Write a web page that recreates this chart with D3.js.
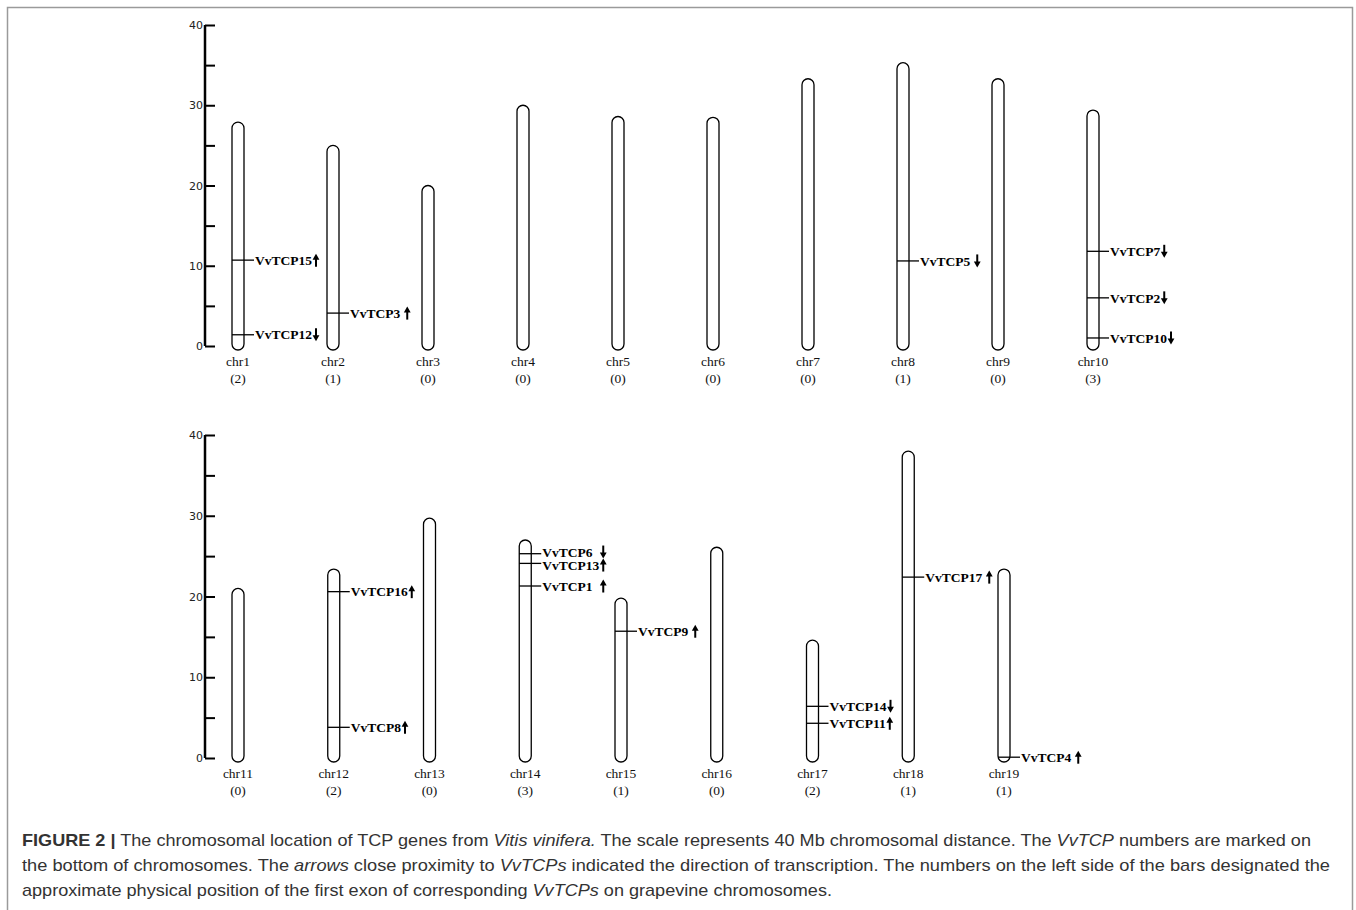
<!DOCTYPE html>
<html>
<head>
<meta charset="utf-8">
<script src="https://cdn.jsdelivr.net/npm/d3@7"></script>
<style>
  body { margin: 0; background: #fff; }
  svg { display: block; }
</style>
</head>
<body>
<svg id="fig" width="1356" height="910"></svg>
<script>
// Chromosomes, length in Mb, number of TCP genes on each
var topChr = ["chr1", "chr2", "chr3", "chr4", "chr5", "chr6", "chr7", "chr8", "chr9", "chr10"];
var topLen = [27.9, 25.0, 20.0, 30.0, 28.6, 28.5, 33.3, 35.3, 33.3, 29.4];
var topCount = [2, 1, 0, 0, 0, 0, 0, 1, 0, 3];

var botChr = ["chr11", "chr12", "chr13", "chr14", "chr15", "chr16", "chr17", "chr18", "chr19"];
var botLen = [21.0, 23.4, 29.7, 27.0, 19.8, 26.1, 14.6, 38.0, 23.4];
var botCount = [0, 2, 0, 3, 1, 0, 2, 1, 1];

// Genes: name, chromosome, position (Mb), direction of transcription
var geneName = ["VvTCP15", "VvTCP12", "VvTCP3", "VvTCP5", "VvTCP7", "VvTCP2", "VvTCP10",
                "VvTCP16", "VvTCP8", "VvTCP6", "VvTCP13", "VvTCP1", "VvTCP9",
                "VvTCP14", "VvTCP11", "VvTCP17", "VvTCP4"];
var geneChr = ["chr1", "chr1", "chr2", "chr8", "chr10", "chr10", "chr10",
               "chr12", "chr12", "chr14", "chr14", "chr14", "chr15",
               "chr17", "chr17", "chr18", "chr19"];
var genePos = [10.7, 1.4, 4.1, 10.6, 11.8, 6.0, 1.0,
               20.6, 3.8, 25.3, 24.1, 21.3, 15.7,
               6.4, 4.3, 22.4, 0.1];
var geneDir = ["up", "down", "up", "down", "down", "down", "down",
               "up", "up", "down", "up", "up", "up",
               "down", "up", "up", "up"];

var axisTicks = [0, 5, 10, 15, 20, 25, 30, 35, 40];

var svg = d3.select("#fig");

// Frame round the figure
svg.append("path")
    .attr("d", "M7.5,910 V7.5 H1352.5 V910")
    .attr("fill", "none")
    .attr("stroke", "#9a9a9a")
    .attr("stroke-width", 1.5);

var genes = geneName.map(function(n, i) {
    return { name: n, chr: geneChr[i], pos: genePos[i], dir: geneDir[i] };
});

function drawArrow(g, ax, cy, up) {
    var top = cy - 6.5, bot = cy + 6.5;
    var tip = up ? top : bot, tail = up ? bot : top;
    var s = up ? 1 : -1;
    g.append("line")
        .attr("x1", ax).attr("x2", ax)
        .attr("y1", tail).attr("y2", tip + s * 4)
        .attr("stroke", "#000").attr("stroke-width", 2);
    g.append("path")
        .attr("d", "M" + ax + "," + tip + "L" + (ax - 3.4) + "," + (tip + s * 6) +
              "L" + (ax + 3.4) + "," + (tip + s * 6) + "Z")
        .attr("fill", "#000");
}

function drawPanel(chrs, lens, counts, yRange, xRange) {
    var g = svg.append("g");
    var y = d3.scaleLinear().domain([0, 40]).range(yRange);
    var x = d3.scalePoint().domain(chrs).range(xRange);
    var halfW = 6;

    // Scale bar
    var axis = d3.axisLeft(y).tickValues(axisTicks)
        .tickSize(-10)
        .tickFormat(function(d) { return d % 10 == 0 ? d : ""; });
    var ax = g.append("g").attr("transform", "translate(205,0)").call(axis);
    ax.select(".domain").attr("d", "M0," + y(0) + "V" + y(40))
        .attr("stroke", "#000").attr("stroke-width", 2.5);
    ax.selectAll(".tick line").attr("stroke", "#000").attr("stroke-width", 2);
    ax.selectAll(".tick text")
        .attr("x", -2)
        .attr("font-family", "'DejaVu Sans', sans-serif")
        .attr("font-size", 11)
        .attr("fill", "#222");

    // Chromosomes
    chrs.forEach(function(c, i) {
        var cx = x(c);
        g.append("rect")
            .attr("x", cx - halfW)
            .attr("y", y(lens[i]))
            .attr("width", halfW * 2)
            .attr("height", y(0) + 4 - y(lens[i]))
            .attr("rx", halfW).attr("ry", halfW)
            .attr("fill", "#fff")
            .attr("stroke", "#000")
            .attr("stroke-width", 1.3);

        g.append("text")
            .attr("x", cx).attr("y", y(0) + 20)
            .attr("text-anchor", "middle")
            .attr("font-family", "'Liberation Serif', serif")
            .attr("font-size", 13.5)
            .attr("fill", "#111")
            .text(c);
        g.append("text")
            .attr("x", cx).attr("y", y(0) + 37)
            .attr("text-anchor", "middle")
            .attr("font-family", "'Liberation Serif', serif")
            .attr("font-size", 13.5)
            .attr("fill", "#111")
            .text("(" + counts[i] + ")");

        var onChr = genes.filter(function(d) { return d.chr == c; })
            .sort(function(a, b) { return b.pos - a.pos; });
        if (onChr.length == 0) return;

        // Keep labels from overlapping: spread a crowded pair round its middle
        var crowded = false;
        onChr.forEach(function(d) { d.ly = y(d.pos); });
        for (var k = 1; k < onChr.length; k++) {
            var a = onChr[k - 1], b = onChr[k];
            if (b.ly - a.ly < 13) {
                var mid = (a.ly + b.ly) / 2;
                a.ly = mid - 6.5;
                b.ly = mid + 6.5;
                crowded = true;
            }
        }

        var lx = cx + halfW + 11;
        onChr.forEach(function(d) {
            g.append("line")
                .attr("x1", cx - halfW).attr("x2", cx + halfW + 10)
                .attr("y1", y(d.pos)).attr("y2", y(d.pos))
                .attr("stroke", "#000").attr("stroke-width", 1.3);
            var t = g.append("text")
                .attr("x", lx)
                .attr("y", d.ly)
                .attr("dy", "0.35em")
                .attr("font-family", "'Liberation Serif', serif")
                .attr("font-weight", "bold")
                .attr("font-size", 13.5)
                .text(d.name);
            d.w = t.node().getComputedTextLength();
        });

        var maxW = d3.max(onChr, function(d) { return d.w; });
        var gap = onChr.length == 1 ? 7 : 4;
        onChr.forEach(function(d) {
            var w = crowded ? maxW : d.w;
            drawArrow(g, lx + w + gap, d.ly, d.dir == "up");
        });
    });
}

drawPanel(topChr, topLen, topCount, [346, 25], [238, 1093]);
drawPanel(botChr, botLen, botCount, [758, 435], [238, 1004]);

// Caption
var capLines = [
    [{ t: "FIGURE 2 |", b: true }, { t: " The chromosomal location of TCP genes from " }, { t: "Vitis vinifera.", i: true },
     { t: " The scale represents 40 Mb chromosomal distance. The " }, { t: "VvTCP", i: true }, { t: " numbers are marked on" }],
    [{ t: "the bottom of chromosomes. The " }, { t: "arrows", i: true }, { t: " close proximity to " }, { t: "VvTCPs", i: true },
     { t: " indicated the direction of transcription. The numbers on the left side of the bars designated the" }],
    [{ t: "approximate physical position of the first exon of corresponding " }, { t: "VvTCPs", i: true },
     { t: " on grapevine chromosomes." }]
];
var capWidth = [1289, 1308, 810];

capLines.forEach(function(line, li) {
    var txt = svg.append("text")
        .attr("x", 22).attr("y", 846 + li * 25)
        .attr("font-family", "'Liberation Sans', Arial, sans-serif")
        .attr("font-size", 17)
        .attr("fill", "#333");
    line.forEach(function(p) {
        txt.append("tspan")
            .attr("font-weight", p.b ? "bold" : null)
            .attr("font-style", p.i ? "italic" : null)
            .text(p.t);
    });
    txt.attr("textLength", capWidth[li]).attr("lengthAdjust", "spacingAndGlyphs");
});
</script>
</body>
</html>
